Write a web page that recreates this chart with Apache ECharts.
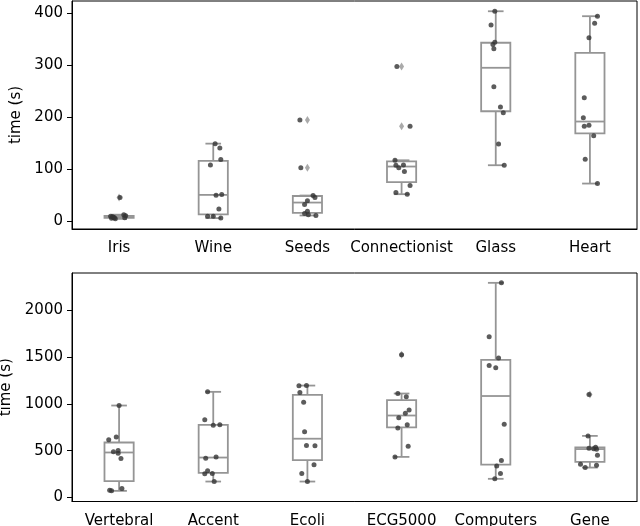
<!DOCTYPE html>
<html><head><meta charset="utf-8">
<script src="https://cdn.jsdelivr.net/npm/echarts@6/dist/echarts.min.js"></script>
<style>html,body{margin:0;padding:0;background:#fff}#c{width:640px;height:526px}</style>
</head><body><div id="c"></div>
<script>
// ---------- data ----------
const topCategories = ['Iris', 'Wine', 'Seeds', 'Connectionist', 'Glass', 'Heart'];
const bottomCategories = ['Vertebral', 'Accent', 'Ecoli', 'ECG5000', 'Computers', 'Gene'];

const irisTimes = [46, 13, 11, 10, 9, 8, 7, 7, 6, 5];
const wineTimes = [149.5, 141, 119, 108.6, 50.4, 51.7, 24, 10, 10, 6.4];
const seedsTimes = [195, 103, 49.8, 46, 40, 32.6, 19.8, 15.3, 12.8, 11.5];
const connectionistTimes = [297.7, 182.7, 117.5, 108, 108.6, 103, 95.8, 69, 55.6, 52.4];
const glassTimes = [403.8, 377.6, 344.4, 339.9, 331.6, 258.8, 219.8, 209, 149, 108];
const heartTimes = [394.3, 380.8, 352.7, 237.7, 199.3, 182.7, 184.6, 164.8, 119.4, 72.8];

const vertebralTimes = [982, 616, 645, 488, 502, 474, 416, 79, 71.5, 96];
const accentTimes = [1128, 829, 772, 776, 420, 434, 253, 285, 256, 171];
const ecoliTimes = [1192, 1195, 1121, 1018, 701, 555, 552, 349, 256, 171];
const ecg5000Times = [1523, 1110, 1075, 933, 900, 851, 776, 741, 548, 434];
const computersTimes = [2291, 1715, 1488, 1409, 1384, 783, 395, 338, 256, 200];
const geneTimes = [1099, 658, 538, 527, 520, 515, 452, 356, 346, 320];

// strip-plot jitter (in category units)
const irisJitter = [0.01, 0.05, 0.07, -0.09, -0.07, -0.06, -0.05, 0.06, -0.08, -0.04];
const wineJitter = [0.02, 0.07, 0.08, -0.03, 0.03, 0.09, 0.06, -0.06, 0.00, 0.08];
const seedsJitter = [-0.08, -0.07, 0.06, 0.08, 0.00, -0.03, 0.00, -0.03, 0.01, 0.09];
const connectionistJitter = [-0.05, 0.09, -0.07, -0.06, 0.02, -0.03, 0.03, 0.09, -0.06, 0.06];
const glassJitter = [-0.01, -0.05, -0.01, -0.03, -0.02, -0.02, 0.05, 0.08, 0.03, 0.09];
const heartJitter = [0.08, 0.05, -0.01, -0.06, -0.07, -0.06, -0.01, 0.04, -0.05, 0.08];

const vertebralJitter = [0.00, -0.11, -0.03, -0.06, -0.01, -0.01, 0.02, -0.10, -0.08, 0.03];
const accentJitter = [-0.06, -0.09, 0.00, 0.07, -0.08, 0.03, -0.09, -0.06, -0.01, 0.01];
const ecoliJitter = [-0.09, -0.01, -0.08, -0.04, -0.03, -0.01, 0.08, 0.07, -0.06, 0.00];
const ecg5000Jitter = [0.00, -0.04, 0.05, 0.08, 0.04, -0.03, 0.06, -0.04, 0.07, -0.07];
const computersJitter = [0.06, -0.07, 0.03, -0.07, 0.00, 0.09, 0.06, 0.01, 0.05, -0.01];
const geneJitter = [-0.01, -0.02, 0.06, -0.01, 0.04, 0.07, 0.08, -0.10, 0.07, -0.05];

const topTimes = [irisTimes, wineTimes, seedsTimes, connectionistTimes, glassTimes, heartTimes];
const topJitter = [irisJitter, wineJitter, seedsJitter, connectionistJitter, glassJitter, heartJitter];
const bottomTimes = [vertebralTimes, accentTimes, ecoliTimes, ecg5000Times, computersTimes, geneTimes];
const bottomJitter = [vertebralJitter, accentJitter, ecoliJitter, ecg5000Jitter, computersJitter, geneJitter];

const topTicks = [0, 100, 200, 300, 400];
const bottomTicks = [0, 500, 1000, 1500, 2000];

// ---------- statistics (box = quartiles, whiskers = 1.5 IQR) ----------
function quantile(s, p) {
  const idx = (s.length - 1) * p, lo = Math.floor(idx), hi = Math.ceil(idx);
  return s[lo] + (s[hi] - s[lo]) * (idx - lo);
}
function stats(vals) {
  const s = [...vals].sort((a, b) => a - b);
  const q1 = quantile(s, 0.25), md = quantile(s, 0.5), q3 = quantile(s, 0.75);
  const iqr = q3 - q1, lo = q1 - 1.5 * iqr, hi = q3 + 1.5 * iqr;
  const inside = s.filter(v => v >= lo && v <= hi);
  return { box: [inside[0], q1, md, q3, inside[inside.length - 1]], out: s.filter(v => v < lo || v > hi) };
}
function build(times, jitter) {
  const boxes = [], fliers = [], points = [];
  times.forEach((vals, i) => {
    const st = stats(vals);
    boxes.push([i, ...st.box]);
    st.out.forEach(v => fliers.push([i, v]));
    vals.forEach((v, k) => points.push([i + jitter[i][k], v]));
  });
  return { boxes, fliers, points };
}
const topD = build(topTimes, topJitter);
const botD = build(bottomTimes, bottomJitter);

// ---------- drawing ----------
const BOX = '#959595', PT = '#333333';
function renderBox(params, api) {
  const i = api.value(0), wl = api.value(1), q1 = api.value(2), md = api.value(3), q3 = api.value(4), wh = api.value(5);
  const bw = 0.155, cw = 0.083;
  const c = (x, y) => api.coord([x, y]);
  const st = { stroke: BOX, lineWidth: 1.8, fill: null };
  const a = c(i - bw, q3), b = c(i + bw, q1);
  const line = (p1, p2) => ({ type: 'line', shape: { x1: p1[0], y1: p1[1], x2: p2[0], y2: p2[1] }, style: st });
  return {
    type: 'group',
    children: [
      { type: 'rect', shape: { x: a[0], y: a[1], width: b[0] - a[0], height: b[1] - a[1] }, style: st },
      line(c(i - bw, md), c(i + bw, md)),
      line(c(i, q3), c(i, wh)),
      line(c(i, q1), c(i, wl)),
      line(c(i - cw, wh), c(i + cw, wh)),
      line(c(i - cw, wl), c(i + cw, wl))
    ]
  };
}

const FONT = 'DejaVu Sans';
function catAxis(gi, cats) {
  return {
    gridIndex: gi, type: 'category', data: cats, boundaryGap: true,
    axisLine: { onZero: false, lineStyle: { color: '#000', width: 1 } },
    axisTick: { alignWithLabel: true, length: 5, lineStyle: { color: '#000' } },
    axisLabel: { color: '#000', fontSize: 15, fontFamily: FONT, margin: 12, interval: 0 },
    splitLine: { show: false }
  };
}
function valAxisX(gi) {
  return { gridIndex: gi, type: 'value', min: -0.5, max: 5.5, show: false,
    axisLine: { show: false, onZero: false }, splitLine: { show: false } };
}
function yAx(gi, min, max, ticks, gap) {
  return {
    gridIndex: gi, type: 'value', min: min, max: max,
    name: 'time (s)', nameLocation: 'middle', nameGap: gap,
    nameTextStyle: { color: '#000', fontSize: 15, fontFamily: FONT },
    axisLine: { show: true, onZero: false, lineStyle: { color: '#000', width: 1 } },
    axisTick: { show: true, length: 5, lineStyle: { color: '#000' }, customValues: ticks },
    axisLabel: { color: '#000', fontSize: 15, fontFamily: FONT, margin: 9, customValues: ticks,
      formatter: v => String(v) },
    splitLine: { show: false }
  };
}
function seriesFor(d, xi, yi) {
  return [
    { type: 'custom', xAxisIndex: xi, yAxisIndex: yi, renderItem: renderBox, data: d.boxes, z: 2, silent: true },
    { type: 'scatter', xAxisIndex: xi, yAxisIndex: yi, data: d.fliers, symbol: 'diamond', symbolSize: [5, 8],
      itemStyle: { color: BOX }, z: 3, silent: true },
    { type: 'scatter', xAxisIndex: xi, yAxisIndex: yi, data: d.points, symbol: 'circle', symbolSize: 5,
      itemStyle: { color: PT }, z: 4, silent: true }
  ];
}

const chart = echarts.init(document.getElementById('c'), null, { renderer: 'canvas' });
chart.setOption({
  animation: false,
  backgroundColor: '#fff',
  grid: [
    { left: 72, right: 3, top: 1, height: 228, show: true, borderColor: '#000', borderWidth: 1,
      containLabel: false, outerBoundsMode: 'none' },
    { left: 72, right: 3, top: 273, height: 228.5, show: true, borderColor: '#000', borderWidth: 1,
      containLabel: false, outerBoundsMode: 'none' }
  ],
  xAxis: [catAxis(0, topCategories), valAxisX(0), catAxis(1, bottomCategories), valAxisX(1)],
  yAxis: [yAx(0, -14.5, 423.5, topTicks, 46), yAx(1, -42, 2396, bottomTicks, 56)],
  series: [...seriesFor(topD, 1, 0), ...seriesFor(botD, 3, 1)]
});
</script>
</body></html>
